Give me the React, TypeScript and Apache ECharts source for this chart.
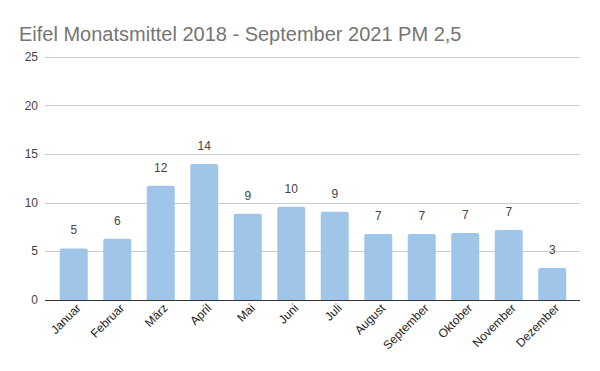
import React, { useEffect, useRef } from "react";
import * as echarts from "echarts";

const title = "Eifel Monatsmittel 2018 - September 2021 PM 2,5";
const categories = ["Januar", "Februar", "März", "April", "Mai", "Juni", "Juli", "August", "September", "Oktober", "November", "Dezember"];
const values = [5.3, 6.3, 11.75, 14.0, 8.87, 9.6, 9.07, 6.8, 6.8, 6.9, 7.2, 3.3];
const yMin = 0;
const yMax = 25;
const yInterval = 5;

export default function App() {
  const ref = useRef<HTMLDivElement>(null);
  useEffect(() => {
    if (!ref.current) return;
    const chart = echarts.init(ref.current, undefined, { renderer: "svg" });
    const font = "'Liberation Sans', Arial, sans-serif";
    chart.setOption({
      animation: false,
      backgroundColor: "#ffffff",
      textStyle: { fontFamily: font },
      title: {
        text: title,
        left: 14,
        top: 19,
        textStyle: { fontFamily: font, fontSize: 20, fontWeight: "normal", color: "#757575" },
      },
      grid: [
        { left: 45, right: 20, top: 57, bottom: 71 },
        { left: 52, right: 26, top: 57, bottom: 71 },
        { left: 57, right: 21, top: 57, bottom: 71 },
      ],
      xAxis: [
        { type: "category", gridIndex: 0, data: categories, show: false },
        {
          type: "category",
          gridIndex: 1,
          data: categories,
          axisLine: { show: false },
          axisTick: { show: false },
          axisLabel: { show: false },
        },
        {
          type: "category",
          gridIndex: 2,
          data: categories,
          axisLine: { show: false },
          axisTick: { show: false },
          axisLabel: { rotate: 45, fontSize: 12, color: "#222", margin: 6, fontFamily: font, interval: 0 },
        },
      ],
      yAxis: [
        {
          type: "value",
          gridIndex: 0,
          min: yMin,
          max: yMax,
          interval: yInterval,
          axisLine: { show: false },
          axisTick: { show: false },
          axisLabel: { fontSize: 12, color: "#444", margin: 7, fontFamily: font },
          splitLine: { lineStyle: { color: "#cccccc", width: 1 } },
        },
        {
          type: "value",
          gridIndex: 1,
          min: yMin,
          max: yMax,
          interval: yInterval,
          show: false,
          splitLine: { show: false },
        },
        {
          type: "value",
          gridIndex: 2,
          min: yMin,
          max: yMax,
          interval: yInterval,
          show: false,
          splitLine: { show: false },
        },
      ],
      series: [
        {
          type: "bar",
          xAxisIndex: 1,
          yAxisIndex: 1,
          data: values,
          barWidth: 28,
          itemStyle: { color: "#9fc5e8", borderRadius: [2, 2, 0, 0] },
          label: {
            show: true,
            position: "top",
            distance: 12,
            fontSize: 12,
            color: "#444",
            fontFamily: font,
            formatter: (p: any) => String(Math.round(p.value)),
          },
          z: 2,
        },
        {
          type: "line",
          xAxisIndex: 0,
          yAxisIndex: 0,
          data: [],
          markLine: {
            silent: true,
            symbol: "none",
            label: { show: false },
            lineStyle: { color: "#333333", width: 1, type: "solid" },
            data: [{ yAxis: 0 }],
          },
          z: 3,
        },
      ],
    });
    return () => chart.dispose();
  }, []);
  return <div ref={ref} style={{ width: 600, height: 371, position: "absolute", left: 0, top: 0 }} />;
}
